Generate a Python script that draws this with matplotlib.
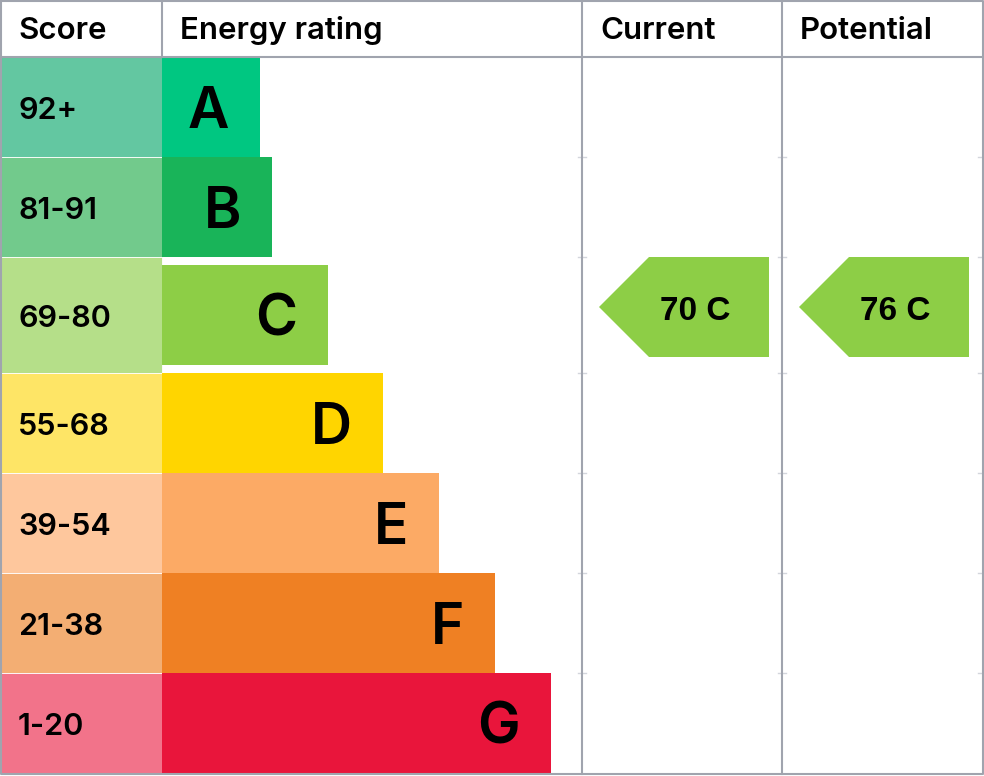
import matplotlib.pyplot as plt
from matplotlib.patches import Rectangle, Polygon

# EPC band data
bands = ["A", "B", "C", "D", "E", "F", "G"]
score_ranges = ["92+", "81-91", "69-80", "55-68", "39-54", "21-38", "1-20"]
band_lower = [92, 81, 69, 55, 39, 21, 1]
bar_lengths = [98, 110, 166, 221, 277, 333, 389]
bar_colors = ["#00c781", "#19b459", "#8dce46", "#ffd500", "#fcaa65", "#ef8023", "#e9153b"]
score_colors = ["#63c7a1", "#72ca8c", "#b5df89", "#fee566", "#fec79d", "#f3ae73", "#f2738a"]

current_score = 70
potential_score = 76

W, H = 984, 776
fig = plt.figure(figsize=(W / 100, H / 100), dpi=100)
ax = fig.add_axes([0, 0, 1, 1])
ax.set_xlim(0, W)
ax.set_ylim(H, 0)
ax.axis("off")

grid = "#a0a4ae"
lw = 1.5
label_font = "Inter"
header_y = 57
score_w = 162
col_cur = 582
col_pot = 782
col_end = 982


def band_of(score):
    for i, lo in enumerate(band_lower):
        if score >= lo:
            return i
    return len(bands) - 1


rating_row = band_of(current_score)

# row layout: the row holding the ratings is a little taller
row_h = [116 if i == rating_row else 100 for i in range(len(bands))]
row_top = [header_y]
for h in row_h[:-1]:
    row_top.append(row_top[-1] + h)

# header
for x, txt in [(18, "Score"), (180, "Energy rating"), (600, "Current"), (800, "Potential")]:
    ax.text(x, 39, txt, fontsize=22.5, fontfamily=label_font, fontweight="semibold", va="baseline")

for i, band in enumerate(bands):
    top = row_top[i]
    mid = top + row_h[i] / 2
    ax.add_patch(Rectangle((1, top), score_w - 1, row_h[i], facecolor=score_colors[i],
                           edgecolor="white", linewidth=0.6))
    ax.text(18, mid + 12, score_ranges[i], fontsize=22, fontfamily=label_font,
            fontweight="semibold", va="baseline")
    ax.add_patch(Rectangle((score_w, mid - 50), bar_lengths[i], 100, facecolor=bar_colors[i],
                           edgecolor="none"))
    ax.text(score_w + bar_lengths[i] - 31, mid + 21, band, fontsize=41, fontfamily=label_font,
            fontweight="semibold", ha="right", va="baseline")
    # little ticks where the row meets the column lines
    if i > 0:
        for x in (col_cur, col_pot, col_end):
            ax.plot([x - 4, x + 4], [top, top], color="#d3d6dc", lw=1)


def rating_arrow(x0, score):
    b = band_of(score)
    top = row_top[b]
    pts = [(x0, top + 50), (x0 + 50, top), (x0 + 170, top), (x0 + 170, top + 100), (x0 + 50, top + 100)]
    ax.add_patch(Polygon(pts, closed=True, facecolor=bar_colors[b], edgecolor="none"))
    ax.text(x0 + 96, top + 63, f"{score} {bands[b]}", fontsize=24, fontfamily="Liberation Sans",
            fontweight="bold", ha="center", va="baseline")


rating_arrow(599, current_score)
rating_arrow(799, potential_score)

# table lines
ax.plot([1, col_end + 1], [header_y, header_y], color=grid, lw=lw)
ax.plot([score_w, score_w], [0, header_y], color=grid, lw=lw)
for x in (col_cur, col_pot):
    ax.plot([x, x], [0, 774], color=grid, lw=lw)
ax.plot([1, 1, col_end + 1, col_end + 1, 1], [1, 774, 774, 1, 1], color=grid, lw=lw)

fig.savefig("out.png", dpi=100)
